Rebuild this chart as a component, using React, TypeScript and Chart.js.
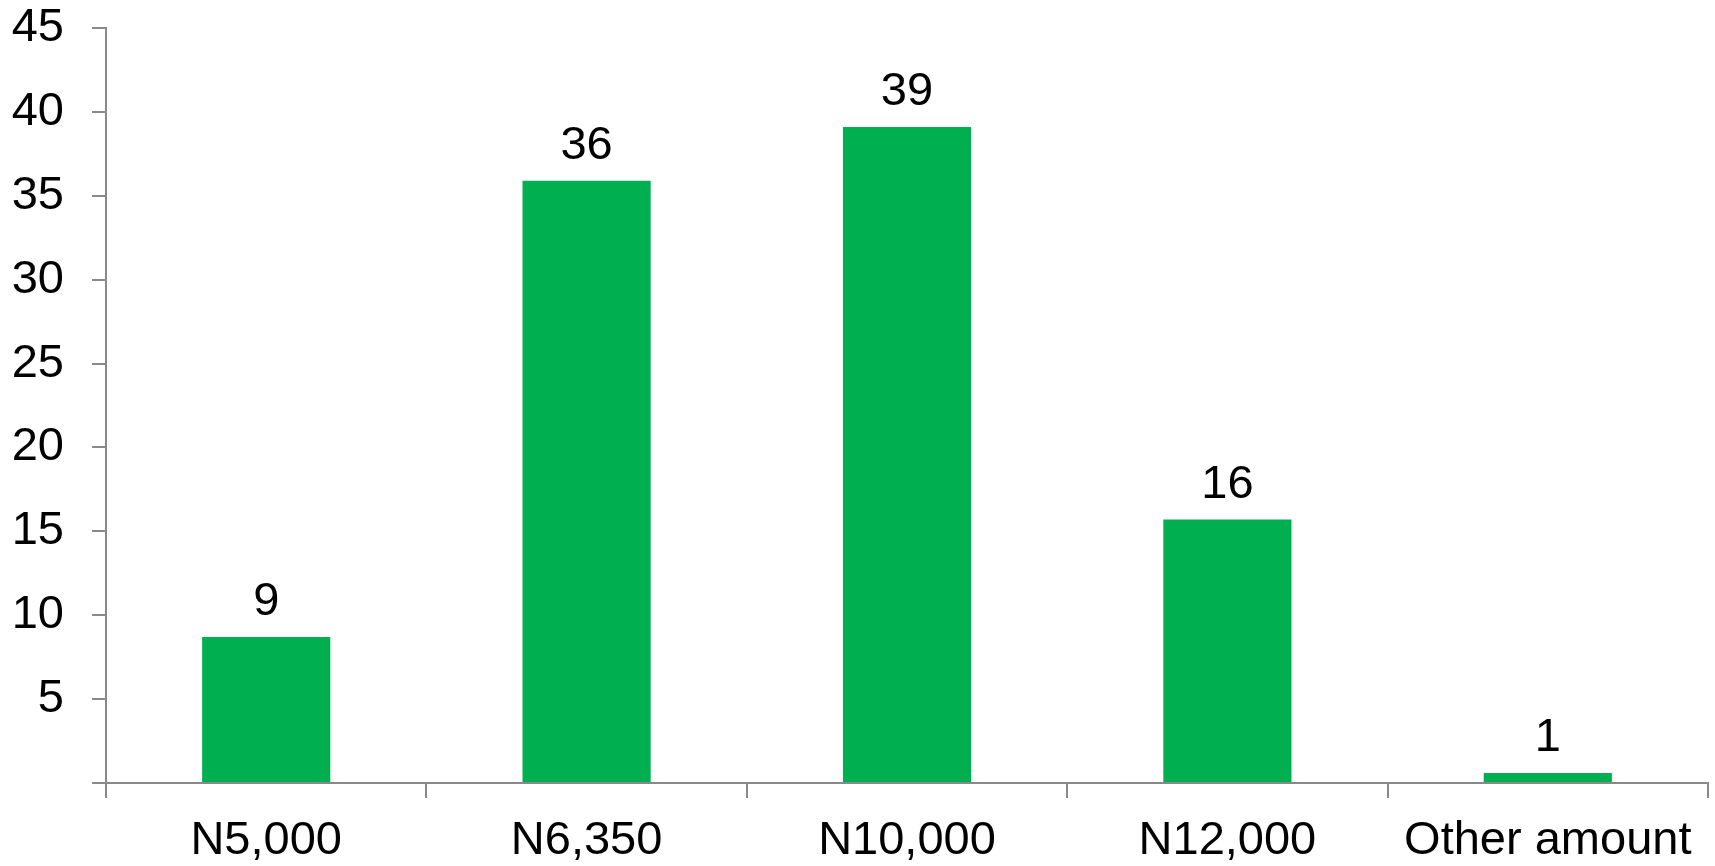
import React, { useEffect, useRef } from "react";
import { Chart, registerables } from "chart.js";

Chart.register(...registerables);

const categories = ["N5,000", "N6,350", "N10,000", "N12,000", "Other amount"];
const values = [8.7, 35.9, 39.1, 15.7, 0.6];
const valueLabels = ["9", "36", "39", "16", "1"];
const yTicks = [0, 5, 10, 15, 20, 25, 30, 35, 40, 45];

const FONT = "'Liberation Sans', Arial, sans-serif";
const AXIS = "#898989";
const GREEN = "#00B050";

const labelPlugin = {
  id: "valueLabels",
  afterDatasetsDraw(chart: any) {
    const ctx = chart.ctx;
    const meta = chart.getDatasetMeta(0);
    ctx.save();
    ctx.font = `47px ${FONT}`;
    ctx.fillStyle = "#000";
    ctx.textAlign = "center";
    ctx.textBaseline = "alphabetic";
    meta.data.forEach((el: any, i: number) => {
      ctx.fillText(valueLabels[i], el.x, el.y - 22);
    });
    ctx.restore();
  },
};

export default function App() {
  const ref = useRef<HTMLCanvasElement | null>(null);
  useEffect(() => {
    if (!ref.current) return;
    const chart = new Chart(ref.current, {
      type: "bar",
      data: {
        labels: categories,
        datasets: [
          {
            data: values,
            backgroundColor: GREEN,
            borderWidth: 0,
            barPercentage: 0.4,
            categoryPercentage: 1,
          },
        ],
      },
      options: {
        animation: false,
        responsive: true,
        maintainAspectRatio: false,
        layout: { padding: { top: 28, right: 7, left: 0, bottom: 0 } },
        plugins: { legend: { display: false }, tooltip: { enabled: false } },
        scales: {
          x: {
            grid: {
              display: true,
              drawOnChartArea: false,
              drawTicks: true,
              tickLength: 15,
              color: AXIS,
              lineWidth: 2,
              offset: true,
            },
            border: { color: AXIS, width: 2 },
            ticks: {
              color: "#000",
              font: { family: FONT, size: 47 },
              padding: 15,
              maxRotation: 0,
              autoSkip: false,
            },
            afterFit(scale: any) {
              scale.height = 83;
              scale.paddingLeft = 0;
              scale.paddingRight = 0;
            },
          },
          y: {
            min: 0,
            max: 45,
            afterBuildTicks(scale: any) {
              scale.ticks = yTicks.map((v) => ({ value: v }));
            },
            grid: {
              display: true,
              drawOnChartArea: false,
              drawTicks: true,
              tickLength: 14,
              color: AXIS,
              lineWidth: 2,
            },
            border: { color: AXIS, width: 2 },
            ticks: {
              color: "#000",
              font: { family: FONT, size: 47 },
              padding: 28,
              callback: (v: any) => (Number(v) === 0 ? "" : String(v)),
            },
            afterFit(scale: any) {
              scale.width = 106;
              scale.paddingTop = 0;
              scale.paddingBottom = 0;
            },
          },
        },
      },
      plugins: [labelPlugin],
    });
    return () => chart.destroy();
  }, []);
  return (
    <div style={{ position: "fixed", left: 0, top: 0, width: 1715, height: 866, background: "#fff" }}>
      <canvas ref={ref} />
    </div>
  );
}
